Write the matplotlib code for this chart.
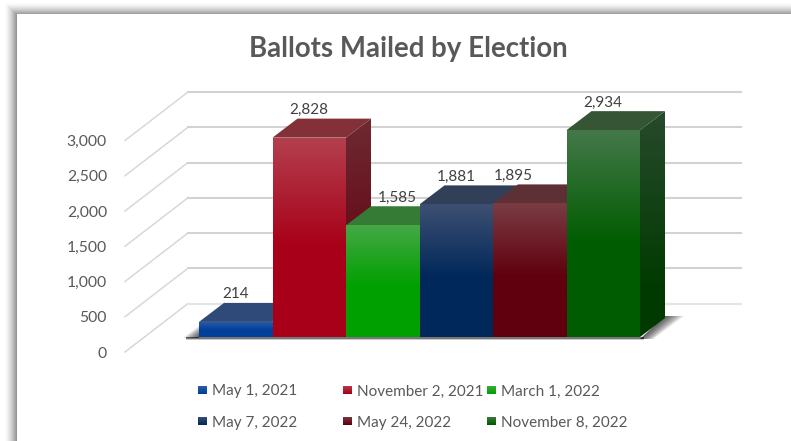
#!/usr/bin/env python3
import numpy as np
import matplotlib
matplotlib.use('Agg')
import matplotlib.pyplot as plt
from matplotlib.colors import to_rgb
from matplotlib.patches import Polygon, Rectangle

# data
elections = ['May 1, 2021', 'November 2, 2021', 'March 1, 2022',
             'May 7, 2022', 'May 24, 2022', 'November 8, 2022']
ballots = [214, 2828, 1585, 1881, 1895, 2934]
ticks = [0, 500, 1000, 1500, 2000, 2500, 3000]

# colours per bar
front_light = ['#2f5ea6', '#b3404f', '#45a845', '#3e5072', '#7a3c44', '#44784a']
front_base = ['#00409a', '#a80018', '#00a000', '#00285a', '#60000e', '#005c00']
side_light = ['#1f3f70', '#6e2a32', '#2a6a2a', '#2a3a55', '#4a2228', '#274a2c']
side_base = ['#002a60', '#62000f', '#006000', '#001a3c', '#400008', '#003a00']
cap = ['#2f4a78', '#843038', '#357a35', '#323f58', '#5c3035', '#355535']
label_shift = [0, 0, 0.2, 0, -0.22, 0]

W, H = 791, 441
plt.rcParams['font.family'] = ['Lato', 'DejaVu Sans']
fig = plt.figure(figsize=(W / 100, H / 100), dpi=100, facecolor='white')


def fig_rect(x0, y0, x1, y1, color):
    fig.add_artist(Rectangle((x0 / W, 1 - y1 / H), (x1 - x0) / W, (y1 - y0) / H,
                             transform=fig.transFigure, facecolor=color,
                             edgecolor='none', zorder=-5))


# soft frame round the chart, only top and left are in view
for k in range(12):
    g = 1 - 0.42 * ((k + 1) / 12) ** 1.5
    fig_rect(5 + k, 3 + k, W + 5, H + 5, (g, g, g))
fig_rect(17, 14, W + 5, H + 5, 'white')

# the axes sit on the front edge of the floor
AX_L, AX_R, AX_B, AX_T = 125, 741, 352, 80
PX_X = 1 / 73.5
PX_V = 500 / 35.25
ax = fig.add_axes([AX_L / W, 1 - AX_B / H, (AX_R - AX_L) / W, (AX_B - AX_T) / H])
ax.patch.set_alpha(0)
for s in ax.spines.values():
    s.set_visible(False)

xmin = -(199 - AX_L) * PX_X
xmax = (AX_R - 199) * PX_X
ymax = (AX_B - AX_T) * PX_V

DX = 25 * PX_X      # bar depth
DY = 19 * PX_V
BASE = 15 * PX_V    # bars stand back from the front of the floor
WALL_X = 63 * PX_X
WALL_Y = 48.5 * PX_V


def fill_grad(verts, top, bottom, stop, zorder):
    verts = np.array(verts)
    n = 200
    c0, c1 = np.array(to_rgb(top)), np.array(to_rgb(bottom))
    t = np.clip(np.linspace(0, 1, n) / stop, 0, 1)[:, None, None]
    img = c0[None, None, :] * (1 - t) + c1[None, None, :] * t
    im = ax.imshow(img, extent=(verts[:, 0].min(), verts[:, 0].max(),
                                verts[:, 1].min(), verts[:, 1].max()),
                   aspect='auto', origin='upper', zorder=zorder,
                   interpolation='bilinear')
    clip = Polygon(verts, closed=True, transform=ax.transData)
    im.set_clip_path(clip)


# walls
for v in ticks:
    ax.plot([xmin, xmin + WALL_X], [v, v + WALL_Y], color='#d8d8d8', lw=1.1,
            zorder=1, clip_on=False)
    ax.plot([xmin + WALL_X, xmax], [v + WALL_Y, v + WALL_Y],
            color='#e4e4e4' if v == 0 else '#d2d2d2', lw=1.5, zorder=1, clip_on=False)

# floor shadow
n = len(ballots)
ax.add_patch(Rectangle((-0.18, BASE - 1.5 * PX_V), n + 0.18 + 0.05, 1.5 * PX_V,
                       facecolor='#777777', edgecolor='none', zorder=2))
ax.add_patch(Rectangle((-0.18, BASE - 3 * PX_V), n + 0.18 + 0.05, 1.5 * PX_V,
                       facecolor='#c8c8c8', edgecolor='none', zorder=2))
for k in range(1, 11):
    w = k * 1.9 * PX_X
    ax.add_patch(Polygon([(n, BASE - 2 * PX_V), (n + DX, BASE + DY + 2 * PX_V),
                          (n + DX + w, BASE + DY + 2 * PX_V),
                          (n + w * 0.7, BASE - 2 * PX_V)],
                         facecolor='black', edgecolor='none', alpha=0.085, zorder=2))
    ax.add_patch(Polygon([(0, BASE - 1 * PX_V), (0, BASE + k * 1.1 * PX_V),
                          (-k * 1.6 * PX_X, BASE - 1 * PX_V)],
                         facecolor='black', edgecolor='none', alpha=0.09, zorder=2))

# bars, left to right so each one covers the side of the one before
for i, val in enumerate(ballots):
    top = BASE + val
    z = 3 + i
    fill_grad([(i + 1, BASE), (i + 1 + DX, BASE + DY), (i + 1 + DX, top + DY), (i + 1, top)],
              side_light[i], side_base[i], 0.8, z)
    ax.add_patch(Polygon([(i, top), (i + DX, top + DY), (i + 1 + DX, top + DY), (i + 1, top)],
                         facecolor=cap[i], edgecolor='none', zorder=z))
    fill_grad([(i, BASE), (i + 1, BASE), (i + 1, top), (i, top)],
              front_light[i], front_base[i], 0.55, z)
    ax.text(i + 0.5 + label_shift[i], top + DY + 8.5 * PX_V, format(val, ','),
            ha='center', va='center', fontsize=11, color='#404040', zorder=20)

ax.set_xlim(xmin, xmax)
ax.set_ylim(0, ymax)
ax.set_xticks([])
ax.set_yticks(ticks)
ax.set_yticklabels([format(t, ',') for t in ticks], va='center_baseline')
ax.tick_params(axis='y', length=0, pad=13, labelsize=11.3, labelcolor='#595959')

fig.text(408.5 / W, 1 - 49.5 / H, 'Ballots Mailed by Election', ha='center', va='center',
         fontsize=19.9, fontweight='bold', color='#595959')

# legend, two rows of three with uneven columns as in the original
leg_x = [198, 343, 487]
leg_y = [390, 421]
for i, name in enumerate(elections):
    x = leg_x[i % 3]
    y = leg_y[i // 3]
    lax = fig.add_axes([x / W, 1 - (y + 4.5) / H, 9 / W, 9 / H])
    lax.axis('off')
    c0, c1 = np.array(to_rgb(front_light[i])), np.array(to_rgb(front_base[i]))
    t = np.linspace(0, 1, 9)[:, None, None]
    lax.imshow(c0[None, None, :] * (1 - t) + c1[None, None, :] * t, aspect='auto')
    fig.text((x + 14) / W, 1 - (y + 1.5) / H, name, ha='left', va='center',
             fontsize=11, color='#595959')

fig.savefig('out.png', dpi=100)
